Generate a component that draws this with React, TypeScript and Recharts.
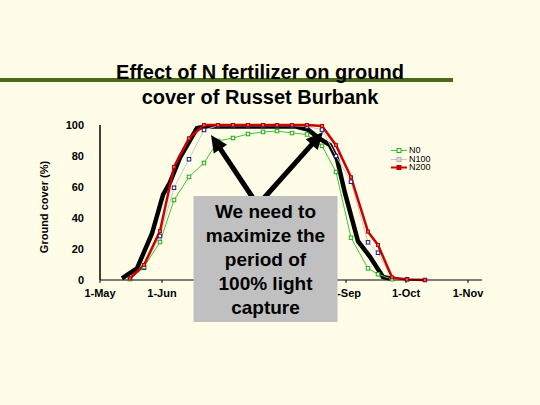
import React from 'react'
import { Legend, Line, LineChart, XAxis, YAxis } from 'recharts'

// days after 1 May when cover was measured
const sampleDays = [15, 22, 30, 37, 44.5, 52, 59, 66.5, 74, 81.5, 88.5, 96, 103.5, 111, 118, 125.5, 134, 139, 146, 153.5, 162.5]
const n0Cover = [0.6, 8.4, 24.5, 51.6, 66.5, 75.5, 89.7, 91.6, 94.2, 95.5, 96.1, 94.8, 93.9, 86.5, 69.7, 27.3, 7.5, 3.7, 0.5]
const n100Cover = [1, 7.9, 28.4, 59.5, 77.9, 96.8, 99.5, 99.5, 99.5, 99.5, 99.5, 99.5, 99, 97, 80, 63.4, 24.3, 17.6, 1, 0.5, 0]
const n200Cover = [1, 9.7, 31.6, 73, 91.4, 100, 100, 100, 100, 100, 100, 100, 100, 99.4, 87, 66.3, 31.2, 22.6, 1.7, 0.3, 0]

// thick black curve (no legend entry)
const blackCurveDays = [11, 18.5, 26, 31.5, 35, 40, 48.5, 53.5, 98, 104, 110, 115, 118.5, 122.5, 129, 135, 141.5, 145]
const blackCurveCover = [1, 7.5, 30, 55, 63, 79, 98, 99, 99, 97, 91, 87, 78, 56, 25, 15, 2, 1]

const monthTicks = [0, 31, 61, 92, 123, 153, 184]
// Jul and Aug labels sit behind the grey note box in the original
const monthLabels = ['1-May', '1-Jun', '', '', '1-Sep', '1-Oct', '1-Nov']
const coverTicks = [0, 20, 40, 60, 80, 100]
const seriesNames = ['N0', 'N100', 'N200']

const titleLines = ['Effect of N fertilizer on ground', 'cover of Russet Burbank']
const noteLines = ['We need to', 'maximize the', 'period of', '100% light', 'capture']

const font = "'Liberation Sans', Arial, Helvetica, sans-serif"
const cream = '#fffde8'

const tableData = sampleDays.map((day, i) => ({
  day,
  N0: i < n0Cover.length ? n0Cover[i] : null,
  N100: n100Cover[i],
  N200: n200Cover[i],
}))

const blackData = blackCurveDays.map((day, i) => ({ day, cover: blackCurveCover[i] }))

const squareDot = (stroke: string, fill: string, size: number) => (props: any) => {
  const { cx, cy, index, dataKey } = props
  if (cx == null || cy == null || props.value == null) return <g key={`${dataKey}-${index}`} />
  return (
    <rect
      key={`${dataKey}-${index}`}
      x={cx - size / 2}
      y={cy - size / 2}
      width={size}
      height={size}
      fill={fill}
      stroke={stroke}
      strokeWidth={1}
    />
  )
}

const legendStyle: Record<string, { line: string; mark: string; fill: string }> = {
  N0: { line: '#33cc33', mark: '#22aa22', fill: cream },
  N100: { line: '#c8c8c8', mark: '#b0b0b0', fill: '#dddddd' },
  N200: { line: '#cc0000', mark: '#bb0000', fill: '#cc0000' },
}

const renderLegend = () => (
  <div style={{ fontFamily: font, fontSize: 9, lineHeight: '8.7px', color: '#000' }}>
    {seriesNames.map((name) => (
      <div key={name} style={{ display: 'flex', alignItems: 'center', height: 8.7 }}>
        <svg width={18} height={9}>
          <line x1={0} y1={4.5} x2={16} y2={4.5} stroke={legendStyle[name].line} strokeWidth={name === 'N200' ? 2 : 1} />
          <rect x={6} y={2.5} width={4} height={4} fill={legendStyle[name].fill} stroke={legendStyle[name].mark} />
        </svg>
        <span>{name}</span>
      </div>
    ))}
  </div>
)

const arrow = (x1: number, y1: number, x2: number, y2: number, key: string) => {
  const dx = x2 - x1
  const dy = y2 - y1
  const len = Math.hypot(dx, dy)
  const ux = dx / len
  const uy = dy / len
  const bx = x2 - ux * 17
  const by = y2 - uy * 17
  const px = -uy * 8
  const py = ux * 8
  return (
    <g key={key}>
      <line x1={x1} y1={y1} x2={bx + ux * 2} y2={by + uy * 2} stroke="#000" strokeWidth={5} />
      <polygon points={`${x2},${y2} ${bx + px},${by + py} ${bx - px},${by - py}`} fill="#000" />
    </g>
  )
}

export default function App() {
  return (
    <div
      style={{
        position: 'fixed',
        left: 0,
        top: 0,
        width: 540,
        height: 405,
        background: cream,
        overflow: 'hidden',
      }}
    >
      <LineChart
        width={540}
        height={405}
        data={tableData}
        margin={{ top: 125, right: 58, bottom: 95, left: 0 }}
      >
        <XAxis
          type="number"
          dataKey="day"
          domain={[0, 191]}
          ticks={monthTicks}
          interval={0}
          tickFormatter={(v: number) => monthLabels[monthTicks.indexOf(v)]}
          stroke="#000"
          tickSize={3}
          tickMargin={6}
          height={30}
          tick={{ fill: '#000', fontSize: 11, fontWeight: 700, fontFamily: font }}
        />
        <YAxis
          type="number"
          domain={[0, 100]}
          ticks={coverTicks}
          interval={0}
          width={100}
          tickLine={false}
          tickSize={0}
          tickMargin={16}
          axisLine={{ stroke: '#000', strokeWidth: 1.5 }}
          tick={{ fill: '#000', fontSize: 11, fontWeight: 700, fontFamily: font }}
        />
        <Legend
          layout="vertical"
          align="center"
          verticalAlign="middle"
          content={renderLegend}
          wrapperStyle={{ left: 391, top: 146, width: 60 }}
        />
        <Line
          data={blackData}
          dataKey="cover"
          name="black"
          legendType="none"
          stroke="#000"
          strokeWidth={4.5}
          dot={false}
          activeDot={false}
          isAnimationActive={false}
        />
        <Line
          dataKey="N100"
          stroke="#c8c8c8"
          strokeWidth={1}
          dot={squareDot('#1a1a80', cream, 3.5)}
          activeDot={false}
          isAnimationActive={false}
        />
        <Line
          dataKey="N0"
          stroke="#33cc33"
          strokeWidth={1}
          dot={squareDot('#22aa22', cream, 3.5)}
          activeDot={false}
          isAnimationActive={false}
        />
        <Line
          dataKey="N200"
          stroke="#cc0000"
          strokeWidth={2.5}
          dot={squareDot('#bb0000', '#e06060', 3)}
          activeDot={false}
          isAnimationActive={false}
        />
      </LineChart>

      <svg
        width={540}
        height={405}
        style={{ position: 'absolute', left: 0, top: 0, pointerEvents: 'none' }}
      >
        <rect x={0} y={78} width={453} height={4} fill="#4a6b1a" />
        {titleLines.map((t, i) => (
          <text
            key={t}
            x={260}
            y={78.5 + i * 25}
            textAnchor="middle"
            fontFamily={font}
            fontWeight={700}
            fontSize={20}
            fill="#000"
          >
            {t}
          </text>
        ))}
        <text
          transform="translate(47.5, 207) rotate(-90)"
          textAnchor="middle"
          fontFamily={font}
          fontWeight={700}
          fontSize={11}
          fill="#000"
        >
          Ground cover (%)
        </text>

        {arrow(253, 198, 211, 135, 'left')}
        {arrow(264, 198, 323, 132, 'right')}

        <rect x={193.5} y={196} width={144} height={126} fill="#c0c0c0" />
        {noteLines.map((t, i) => (
          <text
            key={t}
            x={265.5}
            y={217.5 + i * 24}
            textAnchor="middle"
            fontFamily={font}
            fontWeight={700}
            fontSize={19}
            fill="#000"
          >
            {t}
          </text>
        ))}
      </svg>
    </div>
  )
}
